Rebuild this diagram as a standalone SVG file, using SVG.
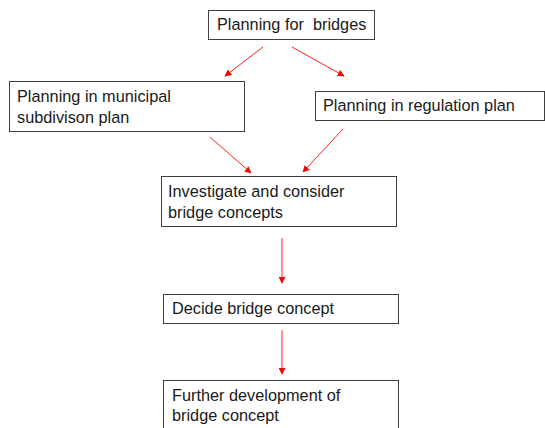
<svg xmlns="http://www.w3.org/2000/svg" width="545" height="428" viewBox="0 0 545 428">
<style>
.box{fill:#fff;stroke:#404040;stroke-width:1}
.t{font-family:"Liberation Sans",Arial,sans-serif;font-size:16.3px;fill:#1a1a1a;white-space:pre}
.c{stroke:#ff2020;stroke-width:1;fill:none;marker-end:url(#ah)}
</style>
<defs>
<marker id="ah" viewBox="0 0 10 10" refX="9" refY="5" markerWidth="7" markerHeight="7" markerUnits="userSpaceOnUse" orient="auto">
<path d="M0,0 L10,5 L0,10 z" fill="#ff0000"/>
</marker>
</defs>
<rect width="545" height="428" fill="#fff"/>
<g id="n1"><rect class="box" x="208.5" y="10.5" width="166" height="29"/><text class="t" x="217" y="30" xml:space="preserve">Planning for  bridges</text></g>
<g id="n2"><rect class="box" x="9.5" y="81.5" width="235" height="50"/><text class="t" x="17" y="102">Planning in municipal</text><text class="t" x="17" y="123">subdivison plan</text></g>
<g id="n3"><rect class="box" x="315.5" y="91.5" width="229" height="29"/><text class="t" x="323" y="111">Planning in regulation plan</text></g>
<g id="n4"><rect class="box" x="161.5" y="176.5" width="235" height="50"/><text class="t" x="168" y="197">Investigate and consider</text><text class="t" x="168" y="218">bridge concepts</text></g>
<g id="n5"><rect class="box" x="163.5" y="294.5" width="235" height="29"/><text class="t" x="172" y="314">Decide bridge concept</text></g>
<g id="n6"><rect class="box" x="163.5" y="380.5" width="235" height="60"/><text class="t" x="172" y="401">Further development of</text><text class="t" x="172" y="421">bridge concept</text></g>
<g id="connectors">
<line class="c" x1="263" y1="47" x2="225" y2="76"/>
<line class="c" x1="292" y1="47" x2="344" y2="76"/>
<line class="c" x1="210" y1="137" x2="251" y2="173"/>
<line class="c" x1="343" y1="129" x2="303" y2="172"/>
<line class="c" x1="282" y1="238" x2="282" y2="283"/>
<line class="c" x1="282" y1="330" x2="282" y2="374"/>
</g>
</svg>
